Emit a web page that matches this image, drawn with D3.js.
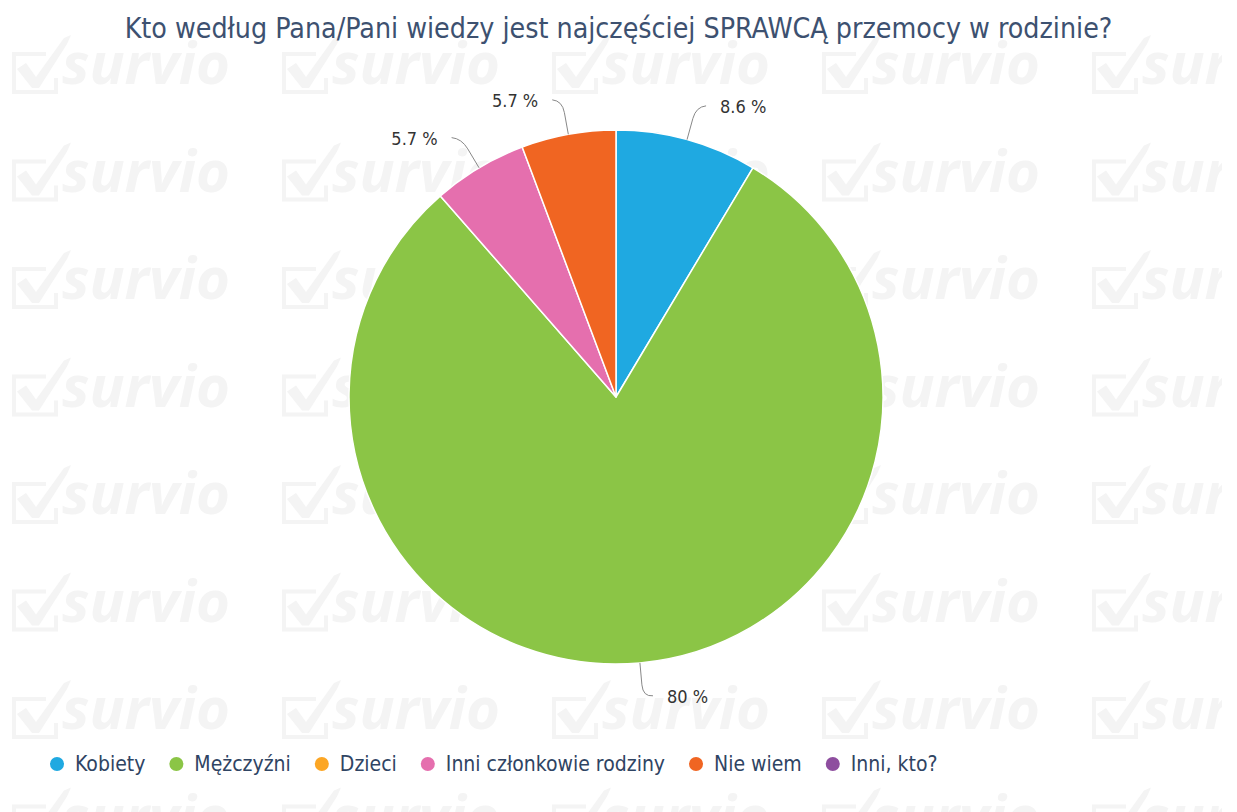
<!DOCTYPE html>
<html>
<head>
<meta charset="utf-8">
<script src="https://cdn.jsdelivr.net/npm/d3@7"></script>
<style>
  html, body { margin: 0; padding: 0; background: #fff; }
  #chart { width: 1237px; height: 812px; }
</style>
</head>
<body>
<div id="chart"></div>
<script>
const kWidth = 1237;
const kHeight = 812;
const kTitle = "Kto według Pana/Pani wiedzy jest najczęściej SPRAWCĄ przemocy w rodzinie?";

const kCategories = ["Kobiety", "Mężczyźni", "Dzieci", "Inni członkowie rodziny", "Nie wiem", "Inni, kto?"];
const kCounts = [3, 28, 0, 2, 2, 0];
const kLabels = ["8.6 %", "80 %", "0 %", "5.7 %", "5.7 %", "0 %"];
const kColors = ["#1fa9e1", "#8bc546", "#fca624", "#e56fae", "#f06522", "#8e4e9f"];

const kFont = "'DejaVu Sans Condensed', 'DejaVu Sans', sans-serif";
const kCx = 616;
const kCy = 397;
const kRadius = 267;

function createSvg()
{
  return d3.select("#chart")
    .append("svg")
    .attr("width", kWidth)
    .attr("height", kHeight);
}

function drawWatermark(svg)
{
  const clip = svg.append("clipPath").attr("id", "wmclip");
  clip.append("rect").attr("x", 0).attr("y", 0).attr("width", 1222).attr("height", kHeight);

  const g = svg.append("g")
    .attr("fill", "#f4f4f4")
    .attr("stroke", "#f4f4f4")
    .attr("clip-path", "url(#wmclip)");

  const cols = d3.range(0, 5).map(i => 12 + i * 270);
  const rows = d3.range(0, 8).map(i => 84 + i * 107.5);

  rows.forEach(y => {
    cols.forEach(x => {
      const w = g.append("g").attr("transform", `translate(${x}, ${y})`);
      // checkbox outline
      w.append("path")
        .attr("d", "M34,-30 L2,-30 L2,8 L44,8 L44,-6")
        .attr("fill", "none")
        .attr("stroke-width", 4);
      // check mark
      w.append("path")
        .attr("d", "M5,-15 L14,-21 L24,-7 L52,-46 L59,-49 L55,-40 L27,4 L20,4 Z")
        .attr("stroke", "none");
      w.append("text")
        .attr("x", 50)
        .attr("y", 0)
        .attr("textLength", 168)
        .attr("lengthAdjust", "spacingAndGlyphs")
        .style("font-family", "'Open Sans', sans-serif")
        .style("font-weight", "700")
        .style("font-style", "italic")
        .style("font-size", "58px")
        .attr("stroke", "none")
        .text("survio");
    });
  });
}

function drawPie(svg)
{
  const data = kCategories.map((c, i) => ({ name: c, value: kCounts[i], label: kLabels[i], color: kColors[i] }));

  const pie = d3.pie()
    .sort(null)
    .value(d => d.value);

  const arcs = pie(data).filter(a => a.data.value > 0);

  const arc = d3.arc()
    .innerRadius(0)
    .outerRadius(kRadius);

  const g = svg.append("g")
    .attr("transform", `translate(${kCx}, ${kCy})`);

  g.selectAll("path.slice")
    .data(arcs)
    .enter()
    .append("path")
    .attr("class", "slice")
    .attr("d", arc)
    .attr("fill", d => d.data.color)
    .attr("stroke", "#fff")
    .attr("stroke-width", 1.5)
    .attr("stroke-linejoin", "round");

  const polar = (r, a) => [r * Math.sin(a), -r * Math.cos(a)];

  arcs.forEach(d => {
    const a = (d.startAngle + d.endAngle) / 2;
    const right = Math.sin(a) >= 0 ? 1 : -1;
    const p0 = polar(kRadius, a);
    const p1 = polar(kRadius + 22, a);
    const corner = polar(kRadius + 34, a);
    const end = [corner[0] + right * 10, corner[1] - 1];

    g.append("path")
      .attr("d", `M${p0[0]},${p0[1]} L${p1[0]},${p1[1]} Q${corner[0]},${corner[1]} ${end[0]},${end[1]}`)
      .attr("fill", "none")
      .attr("stroke", "#888")
      .attr("stroke-width", 1);

    g.append("text")
      .attr("x", end[0] + right * 14)
      .attr("y", corner[1])
      .attr("dy", "0.35em")
      .attr("text-anchor", right > 0 ? "start" : "end")
      .style("font-family", kFont)
      .style("font-size", "18px")
      .attr("fill", "#333")
      .text(d.data.label);
  });
}

function drawTitle(svg)
{
  svg.append("text")
    .attr("x", kWidth / 2)
    .attr("y", 38)
    .attr("text-anchor", "middle")
    .style("font-family", kFont)
    .style("font-size", "28.3px")
    .attr("fill", "#3d5170")
    .text(kTitle);
}

function drawLegend(svg)
{
  const g = svg.append("g")
    .attr("transform", "translate(57, 764)");

  let x = 0;
  kCategories.forEach((c, i) => {
    const item = g.append("g").attr("transform", `translate(${x}, 0)`);
    item.append("circle")
      .attr("r", 7)
      .attr("fill", kColors[i]);
    const t = item.append("text")
      .attr("x", 18)
      .attr("dy", "0.35em")
      .style("font-family", kFont)
      .style("font-size", "21px")
      .attr("fill", "#2f4463")
      .text(c);
    x += 18 + t.node().getComputedTextLength() + 31;
  });
}

document.addEventListener("DOMContentLoaded", () => {
  const svg = createSvg();
  drawWatermark(svg);
  drawTitle(svg);
  drawPie(svg);
  drawLegend(svg);
});
</script>
</body>
</html>
